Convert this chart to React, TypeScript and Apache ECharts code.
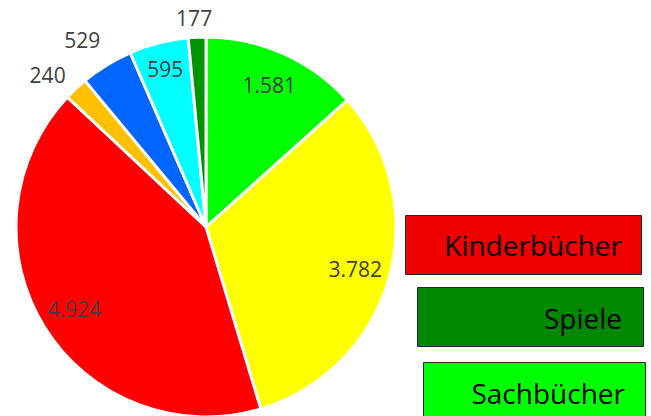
import React, { useEffect, useRef } from "react";
import * as echarts from "echarts";

const categories = ["Sachbücher", "Kategorie 2", "Kinderbücher", "Kategorie 4", "Kategorie 5", "Kategorie 6", "Spiele"];
const values = [1581, 3782, 4924, 240, 529, 595, 177];
const sliceColors = ["#00FF00", "#FFFF00", "#FF0000", "#FFC000", "#0066FF", "#00FFFF", "#009400"];
const labelPlacement = ["inside", "inside", "inside", "outside", "outside", "outside", "outside"];
const labelOffsets = [0, 0, 0, 29, 36, -26, 21];
const labelNudgeX = [0, 0, 0, -9, -6, 0, -2];
const labelNudgeY = [0, 0, 0, 7, 5, 0, 1];

const legendNames = ["Kinderbücher", "Spiele", "Sachbücher"];
const legendColors = ["#EE0000", "#008800", "#00FF00"];
const legendBoxes = [
  { x: 405.5, y: 215.5, w: 236, h: 59, tx: 622, ty: 245 },
  { x: 417.5, y: 287.5, w: 226, h: 59, tx: 622, ty: 318 },
  { x: 423.5, y: 362.5, w: 222, h: 60, tx: 625, ty: 393 },
];

const fmt = (v: number) => String(v).replace(/\B(?=(\d{3})+(?!\d))/g, ".");

export default function App() {
  const ref = useRef<HTMLDivElement>(null);
  useEffect(() => {
    if (!ref.current) return;
    const chart = echarts.init(ref.current, null, { renderer: "svg" });
    const font = '"Open Sans", "Noto Sans", sans-serif';
    chart.setOption({
      animation: false,
      backgroundColor: "#ffffff",
      series: [
        {
          type: "pie",
          center: [206, 227],
          radius: [0, 190],
          startAngle: 90,
          clockwise: true,
          silent: true,
          label: { show: false },
          labelLine: { show: false },
          itemStyle: { borderColor: "#ffffff", borderWidth: 3 },
          data: values.map((v, i) => ({
            name: categories[i],
            value: v,
            itemStyle: { color: sliceColors[i] },
          })),
        },
        {
          type: "pie",
          center: [206, 227],
          radius: [115, 189],
          startAngle: 90,
          clockwise: true,
          silent: true,
          avoidLabelOverlap: false,
          itemStyle: { color: "rgba(0,0,0,0)", borderWidth: 0 },
          labelLayout: (p: any) => ({
            align: "center",
            dx: labelNudgeX[p.dataIndex],
            dy: labelNudgeY[p.dataIndex],
          }),
          label: {
            show: true,
            color: "#404040",
            fontSize: 21,
            fontFamily: font,
            distanceToLabelLine: 0,
            formatter: (p: any) => fmt(p.value),
          },
          data: values.map((v, i) => ({
            name: categories[i],
            value: v,
            label: { position: labelPlacement[i] },
            labelLine: { show: false, length: labelOffsets[i], length2: 0 },
          })),
        },
      ],
      graphic: legendBoxes.flatMap((b, i) => [
        {
          type: "rect",
          shape: { x: b.x, y: b.y, width: b.w, height: b.h },
          style: { fill: legendColors[i], stroke: "#262626", lineWidth: 1 },
        },
        {
          type: "text",
          x: b.tx,
          y: b.ty,
          style: {
            text: legendNames[i],
            align: "right",
            verticalAlign: "middle",
            fontSize: 28,
            fontFamily: font,
            fill: "#000000",
          },
        },
      ]),
    });
    return () => chart.dispose();
  }, []);
  return (
    <div
      ref={ref}
      style={{ position: "fixed", left: 0, top: 0, width: 651, height: 416 }}
    />
  );
}
